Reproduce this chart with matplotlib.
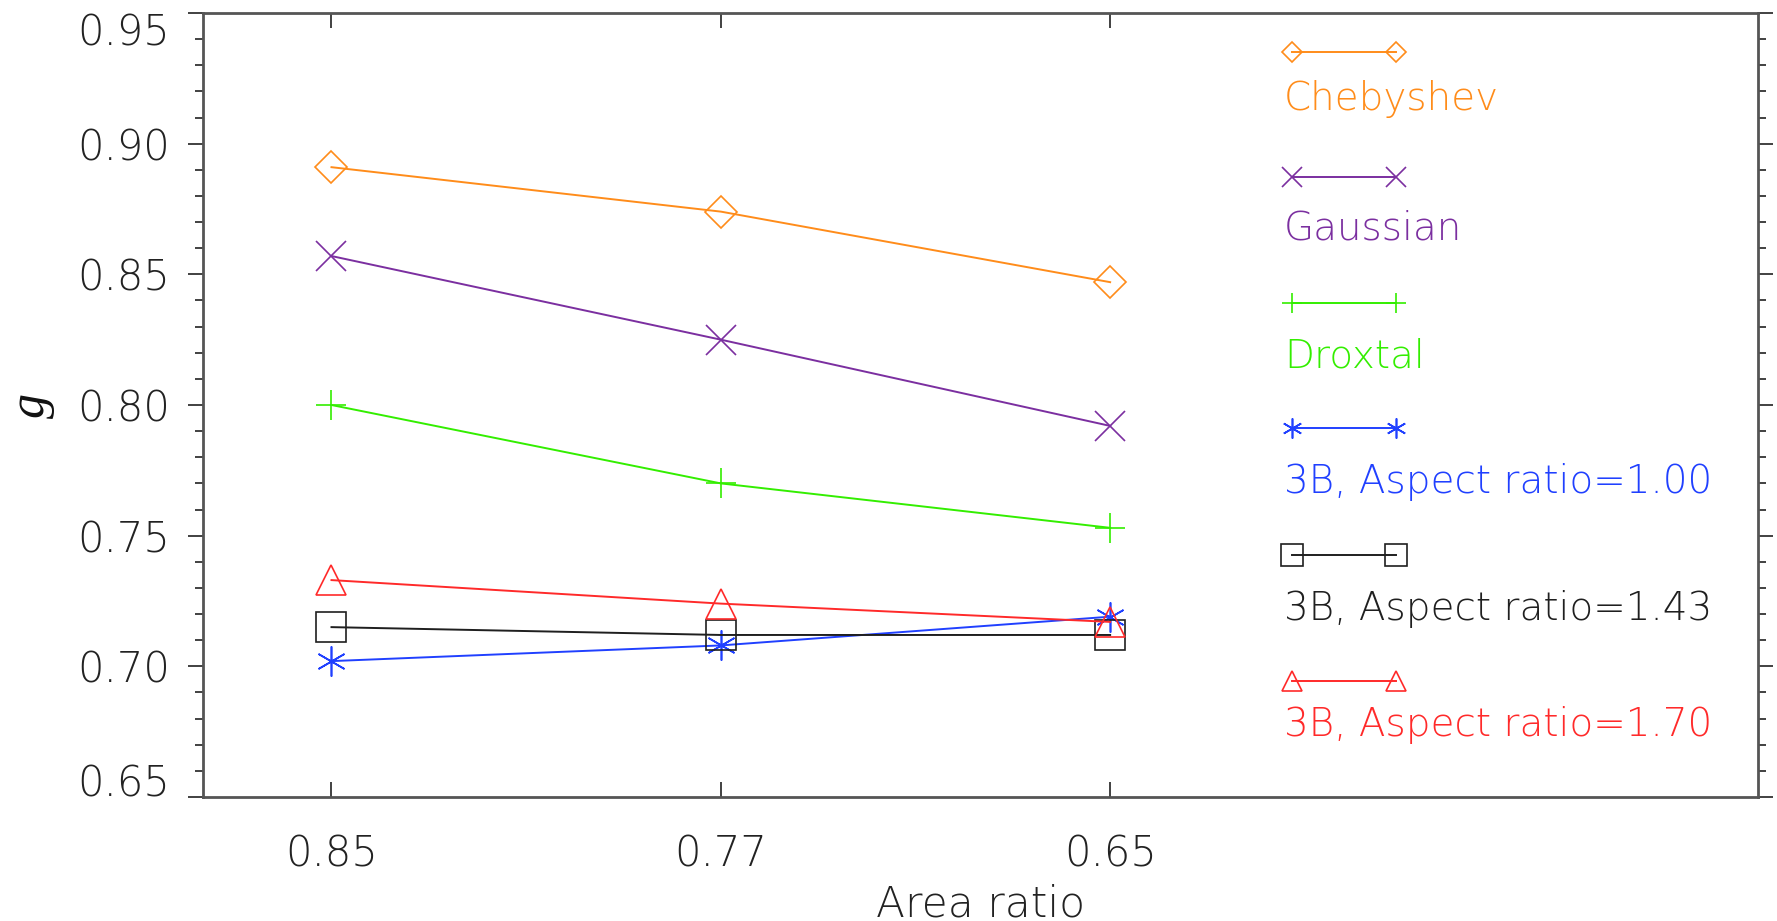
import os
import matplotlib
matplotlib.use("Agg")
import matplotlib.pyplot as plt
from matplotlib import font_manager
from matplotlib.ticker import MultipleLocator, FixedLocator, FormatStrFormatter

# ---- data -------------------------------------------------------------
area_ratio_labels = ["0.85", "0.77", "0.65"]

g_chebyshev = [0.891, 0.874, 0.847]
g_gaussian = [0.857, 0.825, 0.792]
g_droxtal = [0.800, 0.770, 0.753]
g_3b_ar100 = [0.702, 0.708, 0.719]
g_3b_ar143 = [0.715, 0.712, 0.712]
g_3b_ar170 = [0.733, 0.724, 0.717]

series_names = [
    "Chebyshev",
    "Gaussian",
    "Droxtal",
    "3B, Aspect ratio=1.00",
    "3B, Aspect ratio=1.43",
    "3B, Aspect ratio=1.70",
]
series_values = [g_chebyshev, g_gaussian, g_droxtal, g_3b_ar100, g_3b_ar143, g_3b_ar170]

# ---- styling ----------------------------------------------------------
colors = ["#ff8c1a", "#7b2fa0", "#33ee00", "#2040ff", "#1f1f1f", "#ff2a2a"]
markers = ["D", "x", "+", (6, 2, 0), "s", "^"]
plot_ms = [16.3, 21.6, 21.6, 21.6, 21.0, 21.6]
key_ms = [10.2, 14.4, 14.4, 14.4, 15.5, 15.0]

Y_MIN, Y_MAX = 0.65, 0.95


def thin_font(size):
    """A thin sans face if one is installed, else plain DejaVu Sans."""
    for path in font_manager.findSystemFonts():
        if os.path.basename(path).lower() == "dejavusans-extralight.ttf":
            return font_manager.FontProperties(fname=path, size=size)
    return font_manager.FontProperties(family="DejaVu Sans", size=size)


W, H = 1777, 921
fig = plt.figure(figsize=(W / 100, H / 100), dpi=100)

# axes box in pixels
ax_l, ax_r, ax_t, ax_b = 203, 1758, 13, 797
ax = fig.add_axes([ax_l / W, 1 - ax_b / H, (ax_r - ax_l) / W, (ax_b - ax_t) / H])

x = list(range(len(area_ratio_labels)))
for vals, c, m, ms in zip(series_values, colors, markers, plot_ms):
    ax.plot(x, vals, color=c, lw=1.4, marker=m, ms=ms, mfc="none",
            mec=c, mew=1.2, clip_on=False)

ax.set_xlim(-0.33, 3.664)
ax.set_ylim(Y_MIN, Y_MAX)

# axes frame
for s in ax.spines.values():
    s.set_color("#555555")
    s.set_linewidth(2.0)

# ticks
ax.xaxis.set_major_locator(FixedLocator(x))
ax.set_xticklabels(area_ratio_labels)
ax.yaxis.set_major_locator(MultipleLocator(0.05))
ax.yaxis.set_minor_locator(MultipleLocator(0.01))
ax.yaxis.set_major_formatter(FormatStrFormatter("%.2f"))
ax.tick_params(axis="x", which="major", direction="in", top=True, bottom=True,
               length=10.8, width=1.3, color="#333333",
               labelcolor="#222222", pad=26)
ax.tick_params(axis="y", which="major", direction="out", left=True, right=True,
               length=10.8, width=1.3, color="#333333",
               labelcolor="#222222", pad=13)
ax.tick_params(axis="y", which="minor", direction="out", left=True, right=True,
               length=5.6, width=1.3, color="#333333")

fig.canvas.draw()
tick_fp = thin_font(30)
for lab in ax.get_xticklabels() + ax.get_yticklabels():
    lab.set_fontproperties(tick_fp)
# keep the end labels inside the frame height
for lab in ax.get_yticklabels():
    if lab.get_text() == f"{Y_MIN:.2f}":
        lab.set_va("baseline")
    elif lab.get_text() == f"{Y_MAX:.2f}":
        lab.set_va("top")

# axis titles
ax.set_xlabel("Area ratio", fontproperties=thin_font(30.5), color="#222222",
              va="baseline")
ax.xaxis.set_label_coords(0.5, (ax_b - 916) / (ax_b - ax_t))
ax.set_ylabel("g", fontsize=36, color="#111111",
              family=["Liberation Serif", "DejaVu Serif"],
              style="italic", va="center")
ax.yaxis.set_label_coords((32 - ax_l) / (ax_r - ax_l), 0.5)

# key: a line sample with end markers, name written beneath it
key_x0, key_x1 = 1292, 1396
key_line_y = [52, 177, 303, 428, 555, 681]
key_text_y = [110, 239, 368, 493, 620, 736]
key_text_x = 1284
key_fp = thin_font(28)
for name, c, m, ms, ly, ty in zip(series_names, colors, markers, key_ms,
                                  key_line_y, key_text_y):
    ax.plot([key_x0 / W, key_x1 / W], [1 - ly / H, 1 - ly / H],
            transform=fig.transFigure, color=c, lw=1.4, marker=m, ms=ms,
            mfc="none", mec=c, mew=1.2, clip_on=False)
    fig.text(key_text_x / W, 1 - ty / H, name, color=c,
             fontproperties=key_fp, ha="left", va="baseline")

fig.savefig("out.png", dpi=100, facecolor="white")
